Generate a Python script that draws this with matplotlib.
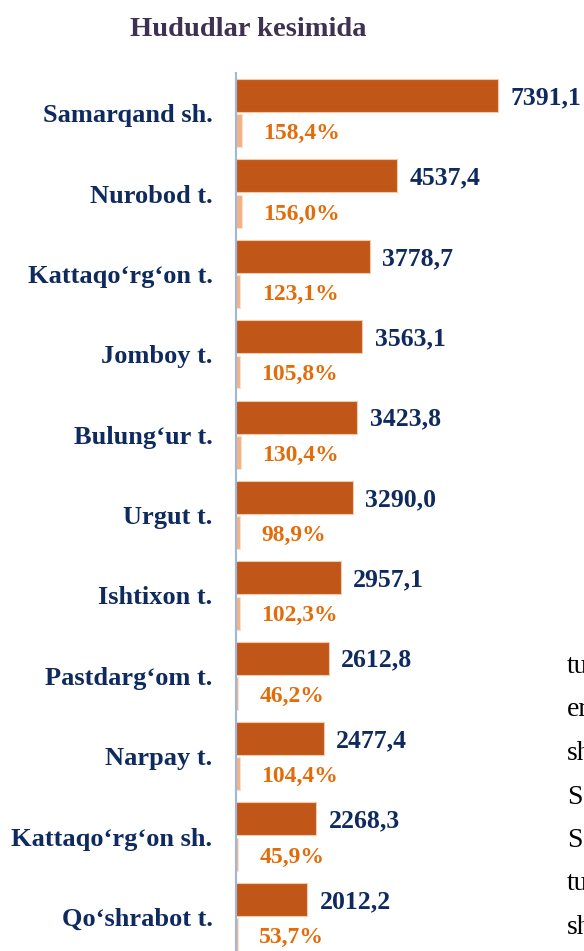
import numpy as np
import matplotlib
matplotlib.use('Agg')
from matplotlib import pyplot as plt

regions = ['Samarqand sh.', 'Nurobod t.', 'Kattaqo\u2018rg\u2018on t.', 'Jomboy t.',
           'Bulung\u2018ur t.', 'Urgut t.', 'Ishtixon t.', 'Pastdarg\u2018om t.',
           'Narpay t.', 'Kattaqo\u2018rg\u2018on sh.', 'Qo\u2018shrabot t.']
volume = [7391.1, 4537.4, 3778.7, 3563.1, 3423.8, 3290.0, 2957.1, 2612.8,
          2477.4, 2268.3, 2012.2]
growth = [158.4, 156.0, 123.1, 105.8, 130.4, 98.9, 102.3, 46.2, 104.4, 45.9, 53.7]
# cropped fragments of the document text to the right of the chart
side_text = ['tu', 'er', 'sh', 'S', 'S', 'tu', 'sh']

plt.rcParams['font.family'] = ['Liberation Serif', 'DejaVu Serif']

W, H = 584, 951
fig = plt.figure(figsize=(W / 100, H / 100), dpi=100)
ax = fig.add_axes([236 / W, 0, 348 / W, 878 / H])

y = np.arange(len(regions))
bar_h = 0.41
off = 0.22

ax.barh(y - off, volume, height=bar_h, color='#c05617', edgecolor='#f3c9ab', linewidth=0.8)
ax.barh(y + off, growth, height=bar_h, color='#f4b183', edgecolor='#fbe0cc', linewidth=0.8)

ax.set_xlim(0, 7391.1 * 348 / 262)
ax.set_ylim(10 + 34 / 80.4, -0.5)

for i in range(len(regions)):
    ax.annotate(f'{volume[i]:.1f}'.replace('.', ','), (volume[i], y[i] - off),
                xytext=(9, -1.5), textcoords='offset points', va='center', ha='left',
                fontsize=18.5, fontweight='bold', color='#0e2a5e', annotation_clip=False)
    ax.annotate(f'{growth[i]:.1f}%'.replace('.', ','), (growth[i], y[i] + off),
                xytext=(15.5, -2), textcoords='offset points', va='center', ha='left',
                fontsize=17, fontweight='bold', color='#e36c0a')

ax.set_yticks(y)
ax.set_yticklabels(regions, fontsize=19, fontweight='bold', color='#0e2a5e')
ax.tick_params(axis='y', length=0, pad=17)
ax.set_xticks([])
for s in ['top', 'right', 'bottom']:
    ax.spines[s].set_visible(False)
ax.spines['left'].set_color('#9db7dd')
ax.spines['left'].set_linewidth(1.5)

fig.text(248 / W, 1 - 30 / H, 'Hududlar kesimida', ha='center', va='center',
         fontsize=20.5, fontweight='bold', color='#3f3151')

for k, t in enumerate(side_text):
    fig.text(567 / W, 1 - (673 + 43.5 * k) / H, t, ha='left', va='baseline',
             fontsize=20, color='black')

fig.savefig('out.png', dpi=100)
